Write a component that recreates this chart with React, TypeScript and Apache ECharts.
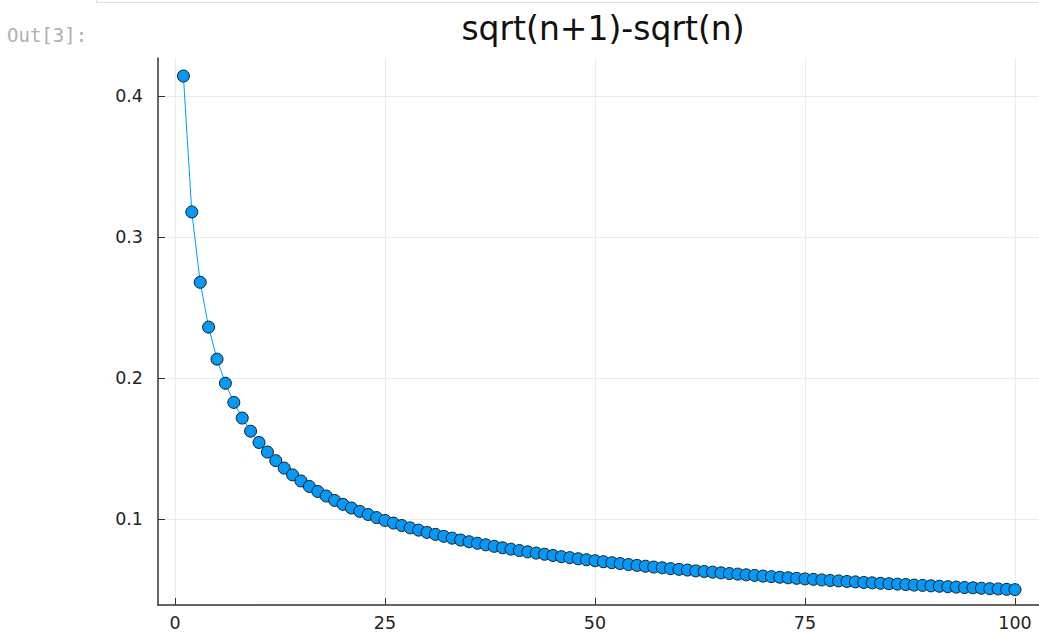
import React, { useEffect, useRef } from "react";
import * as echarts from "echarts";

const titleText = "sqrt(n+1)-sqrt(n)";
const cellLabel = "Out[3]:";
const xTicks = [0, 25, 50, 75, 100];
const yTicks = [0.1, 0.2, 0.3, 0.4];
const nValues = Array.from({ length: 100 }, (_, i) => i + 1);
const yValues = [
  0.4142, 0.3178, 0.2679, 0.2361, 0.2134, 0.1963, 0.1827, 0.1716, 0.1623, 0.1543,
  0.1475, 0.1414, 0.1361, 0.1313, 0.1270, 0.1231, 0.1195, 0.1163, 0.1132, 0.1104,
  0.1078, 0.1054, 0.1032, 0.1010, 0.0990, 0.0971, 0.0954, 0.0937, 0.0921, 0.0905,
  0.0891, 0.0877, 0.0864, 0.0851, 0.0839, 0.0828, 0.0817, 0.0806, 0.0796, 0.0786,
  0.0776, 0.0767, 0.0758, 0.0750, 0.0741, 0.0733, 0.0726, 0.0718, 0.0711, 0.0704,
  0.0697, 0.0690, 0.0684, 0.0677, 0.0671, 0.0665, 0.0659, 0.0654, 0.0648, 0.0643,
  0.0638, 0.0632, 0.0628, 0.0623, 0.0618, 0.0613, 0.0609, 0.0604, 0.0600, 0.0595,
  0.0591, 0.0587, 0.0583, 0.0579, 0.0575, 0.0572, 0.0568, 0.0564, 0.0561, 0.0557,
  0.0554, 0.0550, 0.0547, 0.0544, 0.0541, 0.0538, 0.0535, 0.0531, 0.0529, 0.0526,
  0.0523, 0.0520, 0.0517, 0.0514, 0.0512, 0.0509, 0.0506, 0.0504, 0.0501, 0.0499,
];

export default function App() {
  const ref = useRef<HTMLDivElement>(null);
  useEffect(() => {
    document.body.style.margin = "0";
    const chart = echarts.init(ref.current!, null, { renderer: "svg" });
    const font = "DejaVu Sans";
    const axisColor = "#333333";
    chart.setOption({
      animation: false,
      backgroundColor: "#ffffff",
      title: {
        text: titleText,
        left: 598,
        top: 7,
        textAlign: "center",
        textStyle: { fontFamily: font, fontSize: 33, fontWeight: "normal", color: "#111" },
      },
      graphic: [
        {
          type: "rect",
          shape: { x: 96.5, y: -20, width: 1000, height: 22.5 },
          style: { fill: "none", stroke: "#e0e0e0", lineWidth: 1 },
        },
        {
          type: "text",
          x: 7,
          y: 35,
          style: {
            text: cellLabel,
            fontFamily: "DejaVu Sans Mono",
            fontSize: 19,
            fill: "#b0b0b0",
            verticalAlign: "middle",
          },
        },
      ],
      grid: { left: 158, right: 0, top: 58, bottom: 28, containLabel: false },
      xAxis: {
        type: "value",
        min: -2.024,
        max: 102.857,
        axisLine: { show: true, onZero: false, lineStyle: { color: axisColor, width: 1.5 } },
        axisTick: { show: true, inside: true, length: 7, customValues: xTicks, lineStyle: { color: axisColor } },
        axisLabel: {
          customValues: xTicks,
          fontFamily: font,
          fontSize: 17.5,
          color: "#222",
          margin: 9,
        },
        splitLine: { show: true, lineStyle: { color: "#ebebeb", width: 1 } },
      },
      yAxis: {
        type: "value",
        min: 0.039,
        max: 0.427,
        axisLine: { show: true, onZero: false, lineStyle: { color: axisColor, width: 1.5 } },
        axisTick: { show: true, inside: true, length: 7, customValues: yTicks, lineStyle: { color: axisColor } },
        axisLabel: {
          customValues: yTicks,
          fontFamily: font,
          fontSize: 17.5,
          color: "#222",
          margin: 15,
          formatter: (v: number) => String(Math.round(v * 10) / 10),
        },
        splitLine: { show: true, lineStyle: { color: "#ebebeb", width: 1 } },
      },
      series: [
        {
          type: "line",
          data: nValues.map((n, i) => [n, yValues[i]]),
          symbol: "circle",
          symbolSize: 12,
          lineStyle: { color: "#009AFA", width: 1 },
          itemStyle: { color: "#009AFA", borderColor: "#1a1a1a", borderWidth: 1 },
          clip: false,
        },
      ],
    });
    return () => chart.dispose();
  }, []);
  return <div ref={ref} style={{ position: "fixed", left: 0, top: 0, width: 1039, height: 633 }} />;
}
